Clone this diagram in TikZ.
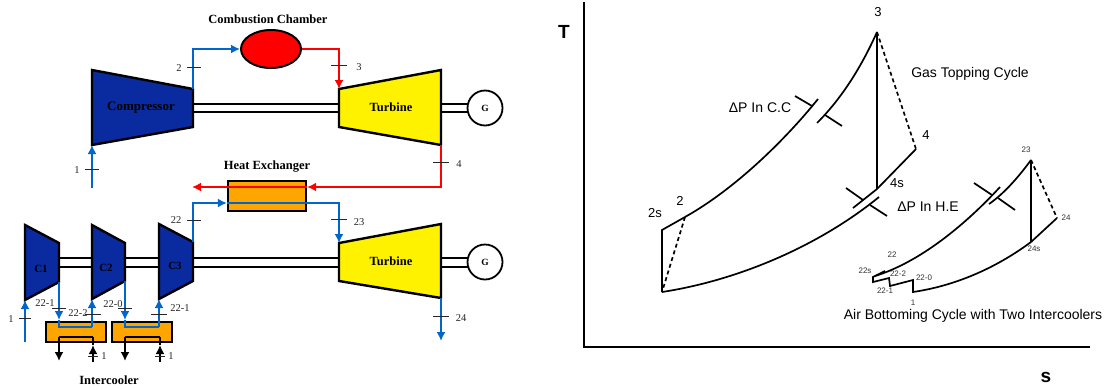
\documentclass[tikz,border=0pt]{standalone}
\usepackage{fontspec}
\setmainfont{Liberation Serif}
\setsansfont{Liberation Sans}
\usetikzlibrary{arrows.meta, shapes.geometric, calc}
\definecolor{ccblue}{HTML}{0066CC}
\definecolor{ccnavy}{HTML}{0A2AA0}
\definecolor{ccred}{HTML}{FF0000}
\definecolor{ccorange}{HTML}{FFA500}
\tikzset{
  machine/.style={draw=black, line width=2.4pt, line join=miter},
  shaftline/.style={draw=black, line width=1.8pt},
  bluepipe/.style={draw=ccblue, line width=2.2pt, -{Latex[length=9pt,width=9pt]}},
  bluepipeplain/.style={draw=ccblue, line width=2.2pt},
  redpipe/.style={draw=ccred, line width=2.4pt, -{Latex[length=9pt,width=9pt]}},
  coolpipe/.style={draw=black, line width=2.2pt, -{Latex[length=9pt,width=9pt]}},
  coolplain/.style={draw=black, line width=2.2pt},
  tickline/.style={draw=black!85, line width=1pt},
  lab/.style={font=\fontsize{12.5}{12.5}\selectfont\bfseries, text=black, inner sep=0pt},
  numlab/.style={font=\fontsize{10.5}{10.5}\selectfont, text=black!85, inner sep=0pt},
  gen/.style={circle, draw=black, line width=1.8pt, fill=white, minimum size=35pt, inner sep=0pt, font=\fontsize{9.5}{9.5}\selectfont\bfseries},
  hxbox/.style={draw=black, line width=2.2pt, fill=ccorange, minimum height=20pt, inner sep=0pt},
  curve/.style={draw=black, line width=1.7pt},
  curvedash/.style={draw=black, line width=1.7pt, dashed, dash pattern=on 4pt off 3pt},
  sflab/.style={font=\sffamily\fontsize{14}{14}\selectfont, inner sep=0pt},
  sfmid/.style={font=\sffamily\fontsize{13}{13}\selectfont, inner sep=0pt},
  sfsmall/.style={font=\sffamily\fontsize{8}{8}\selectfont, text=black!80, inner sep=0pt}
}
\begin{document}
\begin{tikzpicture}[x=1pt, y=-1pt]
  \useasboundingbox (0,0) rectangle (1107,389);
  % shafts
  \foreach \y in {104,112,258,267} {
    \draw[shaftline] (193,\y) -- (339,\y);
    \draw[shaftline] (441,\y) -- (468,\y);
  }
  \foreach \y in {258,267} {
    \draw[shaftline] (59,\y) -- (92,\y);
    \draw[shaftline] (125,\y) -- (159,\y);
  }
  % upper machines
  \draw[machine, fill=ccnavy] (92,70) coordinate (compin) -- (193,89) coordinate (compout) -- (193,127) -- (92,145) coordinate (compfoot) -- cycle;
  \draw[machine, fill=yellow] (339,89) coordinate (turbin) -- (441,70) -- (441,145) coordinate (turbout) -- (339,127) -- cycle;
  \node[lab, font=\fontsize{13}{13}\selectfont\bfseries] (comptext) at (141,108) {Compressor};
  \node[lab] (turbtext) at (391,107) {Turbine};
  \node[gen] (gentop) at (485,108) {G};
  \node[ellipse, draw=black, line width=2pt, fill=ccred, minimum width=60pt, minimum height=38pt, inner sep=0pt] (chamber) at (271,49) {};
  \node[lab] (chambertext) at (268,19) {Combustion Chamber};
  % lower machines
  \draw[machine, fill=ccnavy] (25,225) -- (59,243) -- (59,282) coordinate (c1out) -- (25,300) coordinate (c1in) -- cycle;
  \draw[machine, fill=ccnavy] (92,225) -- (125,243) -- (125,281) coordinate (c2out) -- (92,299) coordinate (c2in) -- cycle;
  \draw[machine, fill=ccnavy] (159,224) -- (193,242) coordinate (c3out) -- (193,281) -- (159,299) coordinate (c3in) -- cycle;
  \draw[machine, fill=yellow] (339,243) coordinate (turblowin) -- (441,224) -- (441,298) coordinate (turblowout) -- (339,281) -- cycle;
  \node[lab, font=\fontsize{11}{11}\selectfont\bfseries] (cone) at (41,269) {C1};
  \node[lab, font=\fontsize{11}{11}\selectfont\bfseries] (ctwo) at (106,268) {C2};
  \node[lab, font=\fontsize{11}{11}\selectfont\bfseries] (cthree) at (175,266) {C3};
  \node[lab] (turblowtext) at (391,261) {Turbine};
  \node[gen] (genlow) at (485,262) {G};
  % heat exchanger and intercoolers
  \node[hxbox, minimum width=78pt, minimum height=30pt] (hx) at (267,196) {};
  \node[lab] (hxtext) at (267,167) {Heat Exchanger};
  \node[hxbox, minimum width=60pt] (coolone) at (76,332) {};
  \node[hxbox, minimum width=60pt] (cooltwo) at (142,332) {};
  \node[lab] (cooltext) at (109,380) {Intercooler};
  % free ends
  \coordinate (inone) at (92,188);
  \coordinate (intwo) at (25,342);
  \coordinate (hxleft) at (192,187);
  \coordinate (outlow) at (441,341);
  % connectors
  \draw[bluepipe] (inone) -- (compfoot);
  \draw[bluepipe] (compout) |- (chamber.west);
  \draw[redpipe] (chamber.east) -| (turbin);
  \draw[redpipe] (turbout) |- (hx.east |- hxleft);
  \draw[redpipe] (hx.east |- hxleft) -- (hxleft);
  \draw[bluepipe] (c3out) |- (hx.west |- 0,203);
  \draw[bluepipe] (hx.west |- 0,203) -- (hx.east |- 0,203) -| (turblowin);
  \draw[bluepipe] (turblowout) -- (outlow);
  \draw[bluepipe] (intwo) -- (c1in);
  % intercooler loops
  \draw[bluepipe] (c1out) -- (59,320);
  \draw[bluepipeplain] (59,320) |- (92,327);
  \draw[bluepipe] (92,327) -- (c2in);
  \draw[bluepipe] (c2out) -- (125,320);
  \draw[bluepipeplain] (125,320) |- (159,327);
  \draw[bluepipe] (159,327) -- (c3in);
  \foreach \xa/\xb in {59/93,125/160} {
    \draw[coolpipe] (\xa,337) -- (\xa,361);
    \draw[coolplain] (\xa,337) -- (\xb,337);
    \draw[coolpipe] (\xb,362) -- (\xb,345);
    \draw[coolplain] (\xb,345) -- (\xb,337);
  }
  % ticks and their labels
  \foreach \x/\y/\w/\tx/\ty/\t in {92/169/7/77/170/1, 194/67/7/179/68/2, 339/65/8/359/67/3, 441/162/8/459/164/4,
      194/220/7/176/220/22, 339/219/8/359/222/23, 441/316/8/461/318/24, 25/318/6/11/319/1,
      59/308/7/45/303/22-1, 93/314/8/78/313/22-2, 125/308/7/113/304/22-0, 159/314/8/180/308/22-1,
      93/356/5/104/356/1, 160/356/5/171/356/1} {
    \draw[tickline] (\x-\w,\y) -- (\x+\w,\y);
    \node[numlab] at (\tx,\ty) {\t};
  }
  % axes
  \coordinate (axtop) at (584,2);
  \coordinate (axorigin) at (584,347);
  \coordinate (axright) at (1090,347);
  \draw[draw=black, line width=1.8pt] (axtop) -- (axorigin) -- (axright);
  \node[font=\sffamily\bfseries\fontsize{19}{19}\selectfont, inner sep=0pt] (axT) at (564,32) {T};
  \node[font=\sffamily\bfseries\fontsize{19}{19}\selectfont, inner sep=0pt] (axS) at (1046,377) {s};
  % gas cycle
  \coordinate (twoS) at (662,230);
  \coordinate (two) at (685,217);
  \coordinate (three) at (877,32);
  \coordinate (four) at (916,149);
  \coordinate (fourS) at (877,189);
  \coordinate (one) at (662,292);
  \draw[curve] (one) -- (twoS) -- (two);
  \draw[curve] (two) .. controls (735,189) and (785,140) .. (818,99);
  \draw[curve] (817,123) .. controls (840,100) and (860,70) .. (three);
  \draw[curve] (three) -- (fourS);
  \draw[curvedash] (three) -- (four);
  \draw[curvedash] (two) -- (one);
  \draw[curve] (853,208) -- (fourS) -- (four);
  \draw[curve] (one) .. controls (740,280) and (820,245) .. (879,197);
  \foreach \xa/\ya/\xb/\yb in {795/96/812/106, 825/115/842/126, 846/188/863/200, 870/205/887/216,
      974/183/992/195, 998/198/1015/210}
    \draw[curve] (\xa,\ya) -- (\xb,\yb);
  % air cycle
  \coordinate (tto) at (1031,160);
  \coordinate (tfour) at (1057,218);
  \coordinate (tfours) at (1031,242);
  \draw[curve] (875,276) .. controls (920,262) and (965,225) .. (1000,187);
  \draw[curve] (989,204) .. controls (1005,193) and (1020,175) .. (tto);
  \draw[curve] (tto) -- (tfours);
  \draw[curvedash] (tto) -- (tfour);
  \draw[curve] (tfour) -- (tfours) .. controls (1000,265) and (960,285) .. (913,292) -- (913,280) -- (890,286) -- (889,278) -- (873,282) -- (873,277) -- (885,271);
  % cycle labels
  \node[sflab] (gastext) at (970,74) {Gas Topping Cycle};
  \node[sflab] (ccdrop) at (760,108) {ΔP In C.C};
  \node[sflab] (hedrop) at (928,207) {ΔP In H.E};
  \node[sflab] (airtext) at (973,316) {Air Bottoming Cycle with Two Intercoolers};
  \foreach \x/\y/\t in {655/213/2s, 680/201/2, 878/12/3, 926/135/4, 897/183/4s}
    \node[sfmid] at (\x,\y) {\t};
  \foreach \x/\y/\t in {892/255/22, 865/271/22s, 898/274/22-2, 924/278/22-0, 885/291/22-1, 913/303/1, 1026/150/23, 1066/218/24, 1034/249/24s}
    \node[sfsmall] at (\x,\y) {\t};
\end{tikzpicture}
\end{document}
